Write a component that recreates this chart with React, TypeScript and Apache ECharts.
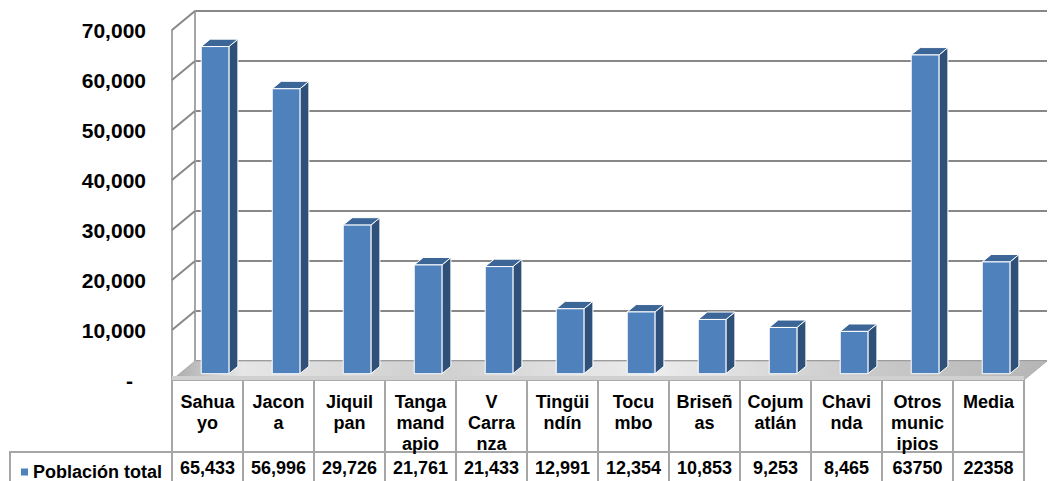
import React, { useEffect, useRef } from "react";
import * as echarts from "echarts";

const categories = [
  "Sahuayo", "Jacona", "Jiquilpan", "Tangamandapio", "V Carranza", "Tingüindín",
  "Tocumbo", "Briseñas", "Cojumatlán", "Chavinda", "Otros municipios", "Media",
];
const categoryLabels = [
  "Sahua\nyo", "Jacon\na", "Jiquil\npan", "Tanga\nmand\napio", "V\nCarra\nnza", "Tingüi\nndín",
  "Tocu\nmbo", "Briseñ\nas", "Cojum\natlán", "Chavi\nnda", "Otros\nmunic\nipios", "Media",
];
const poblacion = [65433, 56996, 29726, 21761, 21433, 12991, 12354, 10853, 9253, 8465, 63750, 22358];
const tableLabels = ["65,433", "56,996", "29,726", "21,761", "21,433", "12,991", "12,354", "10,853", "9,253", "8,465", "63750", "22358"];
const yTicks = [0, 10000, 20000, 30000, 40000, 50000, 60000, 70000];
const seriesName = "Población total";

const DX = 23;
const DY = -19;
const DF = 0.33;
const DB = 0.72;
const FONT = "'Liberation Sans', Arial, sans-serif";
const FRAME = "#a6a6a6";
const GRID = "#888888";

export default function App() {
  const ref = useRef<HTMLDivElement>(null);
  useEffect(() => {
    if (!ref.current) return;
    const chart = echarts.init(ref.current, null, { renderer: "svg" });
    const n = categories.length;
    const option: any = {
      animation: false,
      backgroundColor: "#ffffff",
      textStyle: { fontFamily: FONT },
      legend: {
        left: 16,
        top: 458,
        itemWidth: 7,
        itemHeight: 7,
        icon: "rect",
        data: [seriesName],
        textStyle: { fontFamily: FONT, fontSize: 18, fontWeight: "bold", color: "#000" },
      },
      grid: [
        { left: 172, right: 25, top: 30, bottom: 101 },
        { left: 195, right: 2, top: 11, bottom: 120 },
      ],
      xAxis: [
        {
          type: "category",
          gridIndex: 0,
          data: categoryLabels,
          position: "bottom",
          axisLine: { show: true, lineStyle: { color: FRAME, width: 2 } },
          axisTick: { show: true, length: 101, interval: 0, lineStyle: { color: FRAME, width: 2 } },
          axisLabel: {
            interval: 0,
            margin: 11,
            fontFamily: FONT,
            fontSize: 18,
            fontWeight: "bold",
            color: "#000",
            lineHeight: 21,
            verticalAlign: "top",
          },
        },
        {
          type: "category",
          gridIndex: 0,
          data: tableLabels,
          position: "bottom",
          offset: 72,
          axisLine: { show: true, lineStyle: { color: FRAME, width: 2 } },
          axisTick: { show: false },
          axisLabel: {
            interval: 0,
            margin: 16,
            fontFamily: FONT,
            fontSize: 18,
            fontWeight: "bold",
            color: "#000",
            verticalAlign: "middle",
          },
        },
        {
          type: "category",
          gridIndex: 1,
          data: categories,
          show: false,
        },
      ],
      yAxis: [
        {
          type: "value",
          gridIndex: 0,
          min: 0,
          max: 70000,
          interval: 10000,
          axisLine: { show: true, lineStyle: { color: FRAME, width: 2 } },
          axisTick: { show: false },
          splitLine: { show: false },
          axisLabel: {
            margin: 26,
            fontFamily: FONT,
            fontSize: 21,
            fontWeight: "bold",
            color: "#000",
            formatter: (v: number) => (v === 0 ? "{z|-}" : v.toLocaleString("en-US")),
            rich: {
              z: { fontFamily: FONT, fontSize: 21, fontWeight: "bold", color: "#000", padding: [0, 13, 0, 0] },
            },
          },
        },
        {
          type: "value",
          gridIndex: 1,
          min: 0,
          max: 70000,
          interval: 10000,
          axisLine: { show: true, lineStyle: { color: FRAME, width: 2 } },
          axisTick: { show: false },
          axisLabel: { show: false },
          splitLine: { show: true, lineStyle: { color: GRID, width: 2 } },
        },
      ],
      graphic: [
        { type: "line", shape: { x1: 10, y1: 452, x2: 172, y2: 452 }, style: { stroke: FRAME, lineWidth: 2 } },
        { type: "line", shape: { x1: 10, y1: 451, x2: 10, y2: 481 }, style: { stroke: FRAME, lineWidth: 2 } },
      ],
      series: [
        {
          type: "custom",
          name: "frame",
          xAxisIndex: 0,
          yAxisIndex: 0,
          silent: true,
          z: 1,
          data: yTicks.map((v) => [0, v]),
          encode: { x: 0, y: 1 },
          renderItem: (params: any, api: any) => {
            const v = api.value(1);
            const p = api.coord([0, v]);
            const cw = api.size([1, 0])[0];
            const L = p[0] - cw / 2;
            const children: any[] = [];
            if (v === 0) {
              const pr = api.coord([n - 1, 0]);
              const R = pr[0] + cw / 2;
              const yb = p[1];
              children.push({
                type: "polygon",
                shape: { points: [[L, yb], [R, yb], [R + DX, yb + DY], [L + DX, yb + DY]] },
                style: {
                  fill: new echarts.graphic.LinearGradient(0, 0, 1, 0, [
                    { offset: 0, color: "#a9a9a9" },
                    { offset: 0.08, color: "#e6e6e6" },
                    { offset: 0.3, color: "#cfcfcf" },
                    { offset: 0.55, color: "#ececec" },
                    { offset: 0.8, color: "#c9c9c9" },
                    { offset: 1, color: "#b5b5b5" },
                  ]),
                  stroke: "#b0b0b0",
                  lineWidth: 1,
                },
              });
              children.push({
                type: "polygon",
                shape: { points: [[L, yb], [R, yb], [R, yb - 4], [L, yb - 4]] },
                style: { fill: "#d0d0d0" },
              });
            } else {
              children.push({
                type: "line",
                shape: { x1: L, y1: p[1], x2: L + DX, y2: p[1] + DY },
                style: { stroke: GRID, lineWidth: 2 },
              });
            }
            return { type: "group", children };
          },
        },
        {
          type: "custom",
          name: seriesName,
          xAxisIndex: 0,
          yAxisIndex: 0,
          z: 5,
          itemStyle: { color: "#4f81bd" },
          data: poblacion.map((v, i) => [i, v]),
          encode: { x: 0, y: 1 },
          renderItem: (params: any, api: any) => {
            const i = api.value(0);
            const v = api.value(1);
            const base = api.coord([i, 0]);
            const top = api.coord([i, v]);
            const cw = api.size([1, 0])[0];
            const w = cw * 0.39;
            const fx = base[0] + DF * DX;
            const x0 = fx - w / 2;
            const x1 = fx + w / 2;
            const yb = base[1] + DF * DY;
            const yt = top[1] + DF * DY;
            const ddx = (DB - DF) * DX;
            const ddy = (DB - DF) * DY;
            return {
              type: "group",
              children: [
                {
                  type: "polygon",
                  shape: { points: [[x1, yt], [x1 + ddx, yt + ddy], [x1 + ddx, yb + ddy], [x1, yb]] },
                  style: { fill: "#2e5079", stroke: "#ffffff", lineWidth: 1 },
                },
                {
                  type: "polygon",
                  shape: { points: [[x0, yt], [x0 + ddx, yt + ddy], [x1 + ddx, yt + ddy], [x1, yt]] },
                  style: { fill: "#3c6698", stroke: "#ffffff", lineWidth: 1 },
                },
                {
                  type: "rect",
                  shape: { x: x0, y: yt, width: w, height: yb - yt },
                  style: { fill: "#4f81bd", stroke: "#ffffff", lineWidth: 1 },
                },
              ],
            };
          },
        },
      ],
    };
    chart.setOption(option);
    return () => chart.dispose();
  }, []);
  return (
    <div
      ref={ref}
      style={{ position: "fixed", left: 0, top: 0, width: 1049, height: 481, background: "#fff" }}
    />
  );
}
